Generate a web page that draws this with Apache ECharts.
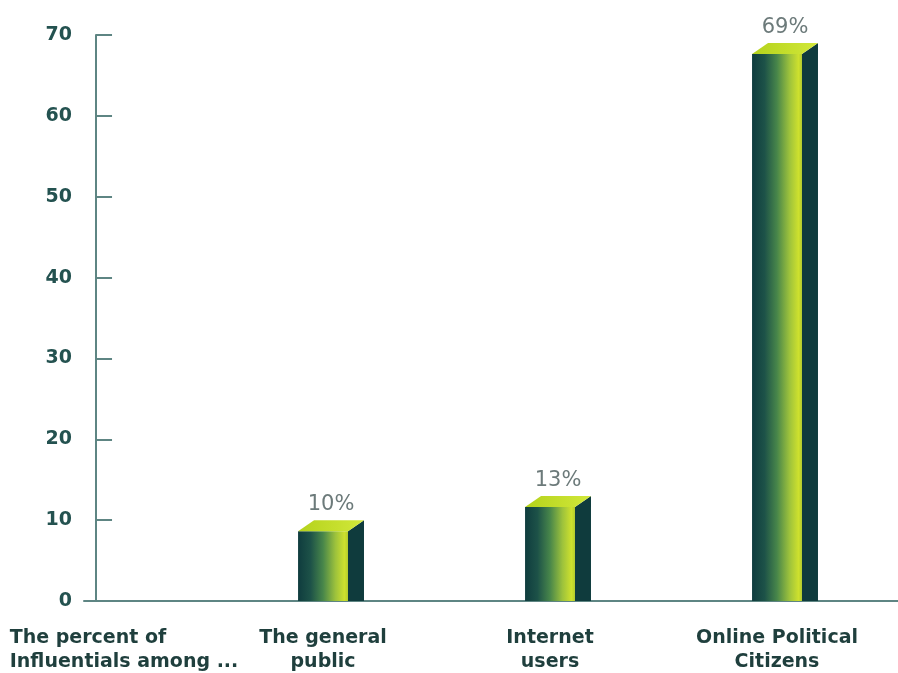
<!DOCTYPE html>
<html><head><meta charset="utf-8">
<script src="https://cdn.jsdelivr.net/npm/echarts@6/dist/echarts.min.js"></script>
<style>html,body{margin:0;padding:0;background:#fff}#c{width:898px;height:673px}</style>
</head><body><div id="c"></div>
<script>
const categories = ['The percent of\nInfluentials among ...', 'The general\npublic', 'Internet\nusers', 'Online Political\nCitizens'];
const values = [null, 10, 13, 69];
const yTicks = [0, 10, 20, 30, 40, 50, 60, 70];

const chart = echarts.init(document.getElementById('c'));
const seriesData = values.map((v, i) => [i, v]).filter(d => d[1] != null);

function renderItem(params, api) {
  const x = api.value(0), v = api.value(1);
  const base = api.coord([x, 0]);
  const top = api.coord([x, v]);
  const unit = api.size([1, 0])[0];
  const W = unit * 0.22, D = 16, H = 11;
  const l = base[0] - W / 2, r = base[0] + W / 2;
  const ft = top[1] + H;
  return {
    type: 'group',
    children: [
      { type: 'rect', shape: { x: l, y: ft, width: W, height: base[1] - ft },
        style: { fill: new echarts.graphic.LinearGradient(0, 0, 1, 0, [
          { offset: 0, color: '#0f3c3e' }, { offset: 0.25, color: '#1d5248' },
          { offset: 0.5, color: '#48864a' }, { offset: 0.75, color: '#9dc23c' },
          { offset: 0.93, color: '#cde02e' }, { offset: 1, color: '#b5cd2c' }]) } },
      { type: 'polygon', shape: { points: [[r, ft], [r + D, top[1]], [r + D, base[1]], [r, base[1]]] },
        style: { fill: '#0f3b3d' } },
      { type: 'polygon', shape: { points: [[l, ft], [r, ft], [r + D, top[1]], [l + D, top[1]]] },
        style: { fill: new echarts.graphic.LinearGradient(0, 0, 1, 0, [
          { offset: 0, color: '#b4d21c' }, { offset: 1, color: '#d2e83a' }]) } },
      { type: 'text', x: base[0] + D / 2, y: top[1] - 5,
        style: { text: v + '%', fill: '#6c7a7a', font: '21px "DejaVu Sans"', align: 'center', verticalAlign: 'bottom' } }
    ]
  };
}

chart.setOption({
  animation: false,
  grid: { left: 84, right: 0, top: 35, bottom: 72, containLabel: false, outerBoundsMode: 'none' },
  xAxis: {
    type: 'value', min: -0.053, max: 3.533,
    axisLine: { show: true, lineStyle: { color: '#5e8583', width: 2 } },
    axisTick: { show: false },
    splitLine: { show: false },
    axisLabel: {
      customValues: categories.map((c, i) => i),
      margin: 25,
      color: '#1f3f3d',
      fontFamily: 'DejaVu Sans', fontWeight: 'bold', fontSize: 19, lineHeight: 24,
      formatter: function (val) {
        const i = Math.round(val);
        const txt = categories[i];
        if (i === 0) return txt.split('\n').map(s => '{f|' + s + '}').join('\n');
        return txt;
      },
      rich: { f: { align: 'left', padding: [0, 0, 0, 56], fontFamily: 'DejaVu Sans', fontWeight: 'bold', fontSize: 19, lineHeight: 24, color: '#1f3f3d' } }
    }
  },
  yAxis: {
    type: 'value', min: yTicks[0], max: yTicks[yTicks.length - 1], interval: 10,
    axisLine: { show: true, lineStyle: { color: '#5e8583', width: 2 } },
    axisTick: { show: true, inside: true, length: 16, lineStyle: { color: '#5e8583', width: 2 } },
    splitLine: { show: false },
    axisLabel: { margin: 12, color: '#245250', fontFamily: 'DejaVu Sans', fontWeight: 'bold', fontSize: 19 }
  },
  series: [{ type: 'custom', renderItem: renderItem, data: seriesData, clip: false }]
});
</script></body></html>
